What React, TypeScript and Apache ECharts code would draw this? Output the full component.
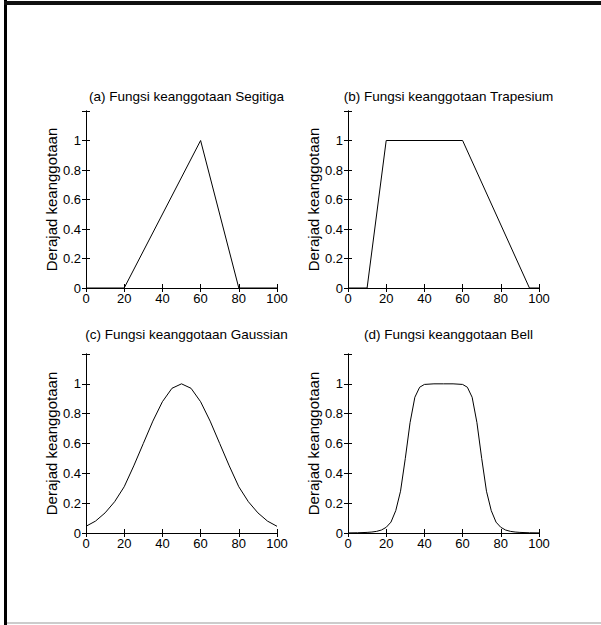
import React, { useEffect, useRef } from "react";
import * as echarts from "echarts";

const titles = [
  "(a) Fungsi keanggotaan Segitiga",
  "(b) Fungsi keanggotaan Trapesium",
  "(c) Fungsi keanggotaan Gaussian",
  "(d) Fungsi keanggotaan Bell",
];
const yName = "Derajad keanggotaan";

const triX = [0, 20, 60, 80, 100];
const triY = [0, 0, 1, 0, 0];

const trapX = [0, 10, 20, 60, 95, 100];
const trapY = [0, 0, 1, 1, 0, 0];

const gaussX = [0, 5, 10, 15, 20, 25, 30, 35, 40, 45, 50, 55, 60, 65, 70, 75, 80, 85, 90, 95, 100];
const gaussY = [0.045, 0.08, 0.135, 0.21, 0.31, 0.45, 0.6, 0.75, 0.88, 0.97, 1.0, 0.97, 0.88, 0.75, 0.6, 0.45, 0.31, 0.21, 0.135, 0.08, 0.045];

const bellX = [0, 5, 10, 12.5, 15, 17.5, 20, 22.5, 25, 27.5, 30, 32.5, 35, 37.5, 40, 45, 50, 55, 60, 62.5, 65, 67.5, 70, 72.5, 75, 77.5, 80, 82.5, 85, 87.5, 90, 95, 100];
const bellY = [0.0007, 0.0015, 0.004, 0.0065, 0.011, 0.02, 0.038, 0.073, 0.15, 0.28, 0.5, 0.74, 0.91, 0.977, 0.996, 1.0, 1.0, 1.0, 0.996, 0.977, 0.91, 0.74, 0.5, 0.28, 0.15, 0.073, 0.038, 0.02, 0.011, 0.0065, 0.004, 0.0015, 0.0007];

const xMin = 0, xMax = 100, xStep = 20;
const yMin = 0, yMax = 1.2, yStep = 0.2;

const panels = [
  { x: triX, y: triY },
  { x: trapX, y: trapY },
  { x: gaussX, y: gaussY },
  { x: bellX, y: bellY },
];

const FONT = "Liberation Sans, Arial, sans-serif";

const grids = [
  { left: 86, top: 111, width: 191, height: 177 },
  { left: 348, top: 111, width: 191, height: 177 },
  { left: 86, top: 354, width: 191, height: 179 },
  { left: 348, top: 354, width: 191, height: 179 },
];
const titleTops = [84, 84, 322, 322];

export default function App() {
  const ref = useRef<HTMLDivElement>(null);
  useEffect(() => {
    if (!ref.current) return;
    const chart = echarts.init(ref.current, null, { renderer: "svg" });
    const xAxes: any[] = [];
    const yAxes: any[] = [];
    const series: any[] = [];
    const title: any[] = [];
    const line = { show: true, lineStyle: { color: "#000", width: 1 } };
    const tick = { show: true, inside: true, length: 4, lineStyle: { color: "#000", width: 1 } };
    grids.forEach((g, i) => {
      xAxes.push({
        type: "value", gridIndex: i, position: "bottom", min: xMin, max: xMax, interval: xStep,
        axisLine: line, axisTick: tick, splitLine: { show: false },
        axisLabel: { color: "#000", fontSize: 13, fontFamily: FONT, margin: 4 },
      });
      xAxes.push({
        type: "value", gridIndex: i, position: "top", min: xMin, max: xMax, interval: xStep,
        axisLine: line, axisTick: tick, splitLine: { show: false }, axisLabel: { show: false },
      });
      yAxes.push({
        type: "value", gridIndex: i, position: "left", min: yMin, max: yMax, interval: yStep,
        axisLine: line, axisTick: tick, splitLine: { show: false },
        axisLabel: {
          color: "#000", fontSize: 13, fontFamily: FONT, margin: 5,
          formatter: (v: number) => (v > 1.05 ? "" : String(+v.toFixed(1))),
        },
        name: yName, nameLocation: "middle", nameRotate: 90, nameGap: 26,
        nameTextStyle: { color: "#000", fontSize: 15, fontFamily: FONT },
      });
      yAxes.push({
        type: "value", gridIndex: i, position: "right", min: yMin, max: yMax, interval: yStep,
        axisLine: line, axisTick: tick, splitLine: { show: false }, axisLabel: { show: false },
      });
      series.push({
        type: "line", xAxisIndex: i * 2, yAxisIndex: i * 2,
        data: panels[i].x.map((xv, k) => [xv, panels[i].y[k]]),
        showSymbol: false, symbol: "none",
        lineStyle: { color: "#000", width: 1 },
      });
      title.push({
        text: titles[i],
        left: g.left + g.width / 2,
        top: titleTops[i],
        textAlign: "center",
        textStyle: { color: "#000", fontSize: 13.5, fontWeight: "normal", fontFamily: FONT },
      });
    });
    chart.setOption({
      animation: false,
      backgroundColor: "#fff",
      title,
      grid: grids.map((g) => ({ ...g, containLabel: false })),
      xAxis: xAxes,
      yAxis: yAxes,
      series,
      graphic: [
        { type: "rect", shape: { x: 4, y: 0, width: 3, height: 625 }, style: { fill: "#000" }, silent: true },
        { type: "rect", shape: { x: 4, y: 1, width: 597, height: 4 }, style: { fill: "#111" }, silent: true },
        { type: "rect", shape: { x: 7, y: 622, width: 594, height: 2 }, style: { fill: "#ccc" }, silent: true },
      ],
    });
    return () => chart.dispose();
  }, []);
  return (
    <div
      ref={ref}
      style={{ position: "fixed", left: 0, top: 0, width: 601, height: 625 }}
    />
  );
}
